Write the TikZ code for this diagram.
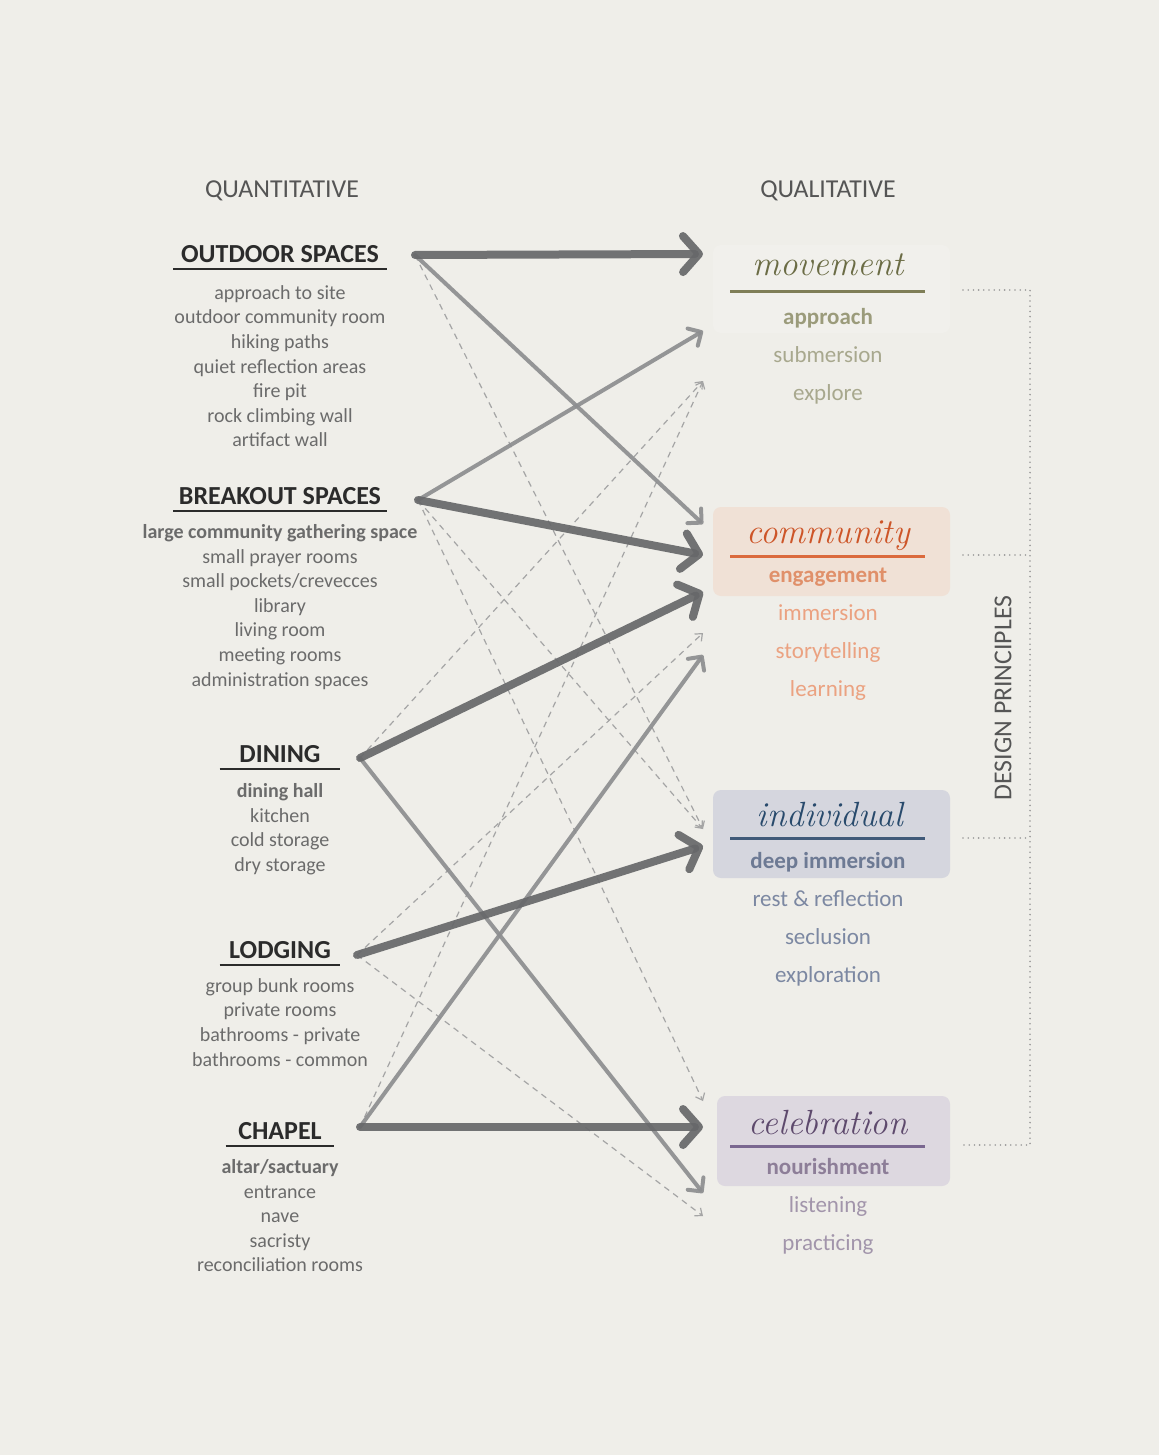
\documentclass[tikz,border=0pt]{standalone}
\usepackage{fontspec}
\setsansfont{Carlito}
\usetikzlibrary{arrows.meta}

\definecolor{paper}{HTML}{EFEEE9}
\definecolor{headink}{HTML}{2B2B2B}
\definecolor{listink}{HTML}{6B6B6B}
\definecolor{sideink}{HTML}{555555}
\definecolor{linkdark}{HTML}{67686A}
\definecolor{linkmid}{HTML}{8D8E90}
\definecolor{linklight}{HTML}{A5A5A5}
\definecolor{dotink}{HTML}{9A9A9A}
% movement
\definecolor{mvtitle}{HTML}{6B6C45}
\definecolor{mvrule}{HTML}{7F7E57}
\definecolor{mvbold}{HTML}{9B9B7B}
\definecolor{mvtext}{HTML}{A8A88E}
\definecolor{mvfill}{HTML}{F1F0EC}
% community
\definecolor{cmtitle}{HTML}{CD5528}
\definecolor{cmrule}{HTML}{DB6A3D}
\definecolor{cmbold}{HTML}{E0906A}
\definecolor{cmtext}{HTML}{EBA281}
\definecolor{cmfill}{HTML}{F0E1D6}
% individual
\definecolor{intitle}{HTML}{284A6C}
\definecolor{inrule}{HTML}{405A79}
\definecolor{inbold}{HTML}{6D7A94}
\definecolor{intext}{HTML}{7C88A2}
\definecolor{infill}{HTML}{D5D6DE}
% celebration
\definecolor{cetitle}{HTML}{5E4A6D}
\definecolor{cerule}{HTML}{7A6790}
\definecolor{cebold}{HTML}{8D7E98}
\definecolor{cetext}{HTML}{A295AB}
\definecolor{cefill}{HTML}{DDD8E0}

\begin{document}
\begin{tikzpicture}[x=0.5pt, y=-0.5pt, every node/.style={inner sep=0pt},
    side/.style={font=\sffamily\fontsize{12.9}{15}\selectfont, text=sideink},
    head/.style={font=\sffamily\bfseries\fontsize{13}{15}\selectfont, text=headink, inner ysep=3pt, anchor=south},
    rule/.style={draw=headink, line width=0.9pt},
    items/.style={font=\sffamily\fontsize{10}{12.3}\selectfont, text=listink, align=center, anchor=north},
    title/.style={font=\rmfamily\itshape\fontsize{17.5}{20}\selectfont, anchor=base},
    lead/.style={font=\sffamily\bfseries\fontsize{11.5}{14}\selectfont, anchor=base},
    facets/.style={font=\sffamily\fontsize{11.5}{19}\selectfont, align=center, anchor=north},
    strong/.style={draw=linkdark, draw opacity=0.92, line width=4pt, line cap=round, -{Straight Barb[round, length=8pt, width=18pt]}},
    medium/.style={draw=linkmid, draw opacity=0.92, line width=2pt, line cap=round, -{Straight Barb[round, length=5pt, width=10pt]}},
    weak/.style={draw=linklight, line width=0.6pt, dash pattern=on 3pt off 2.5pt, -{Straight Barb[length=3pt, width=5pt]}},
    tie/.style={draw=dotink, line width=0.9pt, line cap=round, dash pattern=on 0pt off 2.6pt}]

    \useasboundingbox[fill=paper] (0,0) rectangle (1159,1455);

    % Titoli
    \node[side] (quant) at (282,191) {QUANTITATIVE};
    \node[side] (qual) at (828,191) {QUALITATIVE};

    % Colonna sinistra
    \node[head, minimum width=106.5pt] (outdoor) at (280,269) {OUTDOOR SPACES};
    \draw[rule] (outdoor.south west) -- (outdoor.south east);
    \node[items] (outdoorlist) at (280,285) {approach to site\\outdoor community room\\hiking paths\\quiet reflection areas\\fire pit\\rock climbing wall\\artifact wall};

    \node[head, minimum width=106.5pt] (breakout) at (280,511) {BREAKOUT SPACES};
    \draw[rule] (breakout.south west) -- (breakout.south east);
    \node[items] (breakoutlist) at (280,524) {{\bfseries large community gathering space}\\small prayer rooms\\small pockets/crevecces\\library\\living room\\meeting rooms\\administration spaces};

    \node[head, minimum width=60pt] (dining) at (280,769) {DINING};
    \draw[rule] (dining.south west) -- (dining.south east);
    \node[items] (dininglist) at (280,783) {{\bfseries dining hall}\\kitchen\\cold storage\\dry storage};

    \node[head, minimum width=60pt] (lodging) at (280,965) {LODGING};
    \draw[rule] (lodging.south west) -- (lodging.south east);
    \node[items] (lodginglist) at (280,978) {group bunk rooms\\private rooms\\bathrooms - private\\bathrooms - common};

    \node[head, minimum width=54pt] (chapel) at (280,1146) {CHAPEL};
    \draw[rule] (chapel.south west) -- (chapel.south east);
    \node[items] (chapellist) at (280,1159) {{\bfseries altar/sactuary}\\entrance\\nave\\sacristy\\reconciliation rooms};

    % Colonna destra
    \fill[mvfill, rounded corners=4pt] (713,245) rectangle (950,333);
    \node[title, text=mvtitle] (movement) at (828,276) {movement};
    \draw[mvrule, line width=1.5pt] (730,291) -- (925,291);
    \node[lead, text=mvbold] (approach) at (828,324) {approach};
    \node[facets, text=mvtext] (movementlist) at (828,346) {submersion\\explore};

    \fill[cmfill, rounded corners=4pt] (713,507) rectangle (950,596);
    \node[title, text=cmtitle] (community) at (828,543) {community};
    \draw[cmrule, line width=1.5pt] (730,556) -- (925,556);
    \node[lead, text=cmbold] (engagement) at (828,582) {engagement};
    \node[facets, text=cmtext] (communitylist) at (828,604) {immersion\\storytelling\\learning};

    \fill[infill, rounded corners=4pt] (713,790) rectangle (950,878);
    \node[title, text=intitle] (individual) at (830,826) {individual};
    \draw[inrule, line width=1.5pt] (730,838) -- (925,838);
    \node[lead, text=inbold] (deep) at (828,868) {deep immersion};
    \node[facets, text=intext] (individuallist) at (828,890) {rest \& reflection\\seclusion\\exploration};

    \fill[cefill, rounded corners=4pt] (717,1096) rectangle (950,1186);
    \node[title, text=cetitle] (celebration) at (828,1134) {celebration};
    \draw[cerule, line width=1.5pt] (730,1146) -- (925,1146);
    \node[lead, text=cebold] (nourishment) at (828,1174) {nourishment};
    \node[facets, text=cetext] (celebrationlist) at (828,1196) {listening\\practicing};

    % Principi
    \node[side, rotate=90] (principles) at (1003,698) {DESIGN PRINCIPLES};
    \draw[tie] (963,290) -- (1030,290) -- (1030,1145) -- (963,1145);
    \draw[tie] (963,555) -- (1030,555);
    \draw[tie] (963,838) -- (1030,838);

    % Punti di partenza e di arrivo
    \coordinate (o) at (415,255);
    \coordinate (b) at (418,500);
    \coordinate (d) at (360,758);
    \coordinate (l) at (357,955);
    \coordinate (c) at (360,1127);

    \coordinate (mvA) at (703,254);
    \coordinate (mvB) at (703,331);
    \coordinate (mvC) at (703,381);
    \coordinate (cmA) at (703,524);
    \coordinate (cmB) at (703,555);
    \coordinate (cmC) at (703,592);
    \coordinate (cmD) at (703,633);
    \coordinate (cmE) at (703,655);
    \coordinate (inA) at (703,829);
    \coordinate (inB) at (703,846);
    \coordinate (ceA) at (703,1101);
    \coordinate (ceB) at (703,1127);
    \coordinate (ceC) at (703,1193);
    \coordinate (ceD) at (703,1216);

    % Collegamenti deboli
    \draw[weak] (o) -- (inA);
    \draw[weak] (b) -- (inA);
    \draw[weak] (b) -- (ceA);
    \draw[weak] (d) -- (mvC);
    \draw[weak] (c) -- (mvC);
    \draw[weak] (l) -- (cmD);
    \draw[weak] (l) -- (ceD);

    % Collegamenti medi
    \draw[medium] (o) -- (cmA);
    \draw[medium] (b) -- (mvB);
    \draw[medium] (d) -- (ceC);
    \draw[medium] (c) -- (cmE);

    % Collegamenti forti
    \draw[strong] (o) -- (mvA);
    \draw[strong] (b) -- (cmB);
    \draw[strong] (d) -- (cmC);
    \draw[strong] (l) -- (inB);
    \draw[strong] (c) -- (ceB);
\end{tikzpicture}
\end{document}
